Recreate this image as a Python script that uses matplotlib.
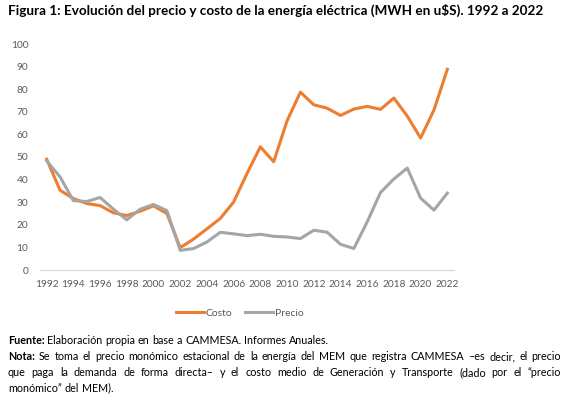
import matplotlib
matplotlib.use("Agg")
import matplotlib.pyplot as plt

years = list(range(1992, 2023))
costo = [49.0, 35.3, 31.6, 29.4, 28.5, 25.3, 24.1, 26.0, 28.4, 25.0,
         9.9, 13.7, 18.2, 22.8, 30.1, 42.7, 54.5, 47.9, 66.0, 78.7,
         73.1, 71.6, 68.4, 71.2, 72.4, 71.1, 76.1, 68.1, 58.4, 70.8, 88.8]
precio = [48.3, 41.2, 30.7, 30.3, 32.1, 26.9, 22.2, 26.9, 29.0, 26.3,
          8.7, 9.5, 12.4, 16.7, 16.0, 15.2, 15.8, 14.9, 14.6, 13.9,
          17.6, 16.7, 11.4, 9.5, 21.3, 34.3, 40.3, 45.1, 31.8, 26.5, 34.0]
xticks = years[::2]
yticks = list(range(0, 101, 10))

title = "Figura 1: Evolución del precio y costo de la energía eléctrica (MWH en u$S). 1992 a 2022"
fuente = "Elaboración propia en base a CAMMESA. Informes Anuales."
nota = [
    "Se toma el precio monómico estacional de la energía del MEM que registra CAMMESA –es decir, el precio",
    "que paga la demanda de forma directa– y el costo medio de Generación y Transporte (dado por el “precio",
    "monómico” del MEM).",
]

FAM = ["Lato", "DejaVu Sans"]
W, H = 566, 398
plt.rcParams["font.family"] = FAM

fig = plt.figure(figsize=(W / 100, H / 100), dpi=100)
fig.patch.set_facecolor("white")
renderer = fig.canvas.get_renderer()

ax = fig.add_axes([40 / W, (H - 270) / H, 414 / W, 226 / H])
ax.plot(years, costo, color="#ED7D31", lw=2.2, label="Costo", solid_joinstyle="round")
ax.plot(years, precio, color="#A5A5A5", lw=2.2, label="Precio", solid_joinstyle="round")
ax.set_xlim(1991.5, 2022.5)
ax.set_ylim(0, 100)
ax.set_xticks(xticks)
ax.set_yticks(yticks)
ax.tick_params(length=0, labelsize=7.3, colors="#595959")
ax.tick_params(axis="x", pad=7.5)
ax.tick_params(axis="y", pad=8.5)
for s in ["top", "right", "left"]:
    ax.spines[s].set_visible(False)
ax.spines["bottom"].set_color("#D9D9D9")
ax.spines["bottom"].set_linewidth(0.9)

leg = fig.legend(loc="center", bbox_to_anchor=(239.5 / W, 1 - 313 / H), ncol=2,
                 frameon=False, fontsize=7.5, handlelength=2.7, handletextpad=0.15,
                 columnspacing=1.25, labelcolor="#595959", borderpad=0)


def width_px(t):
    return t.get_window_extent(renderer).width


def fit_text(x, y, s, target, **kw):
    t = fig.text(x / W, 1 - y / H, s, va="center", ha="left", **kw)
    fs = t.get_fontsize()
    t.set_fontsize(fs * target / width_px(t))
    return t


def words_line(y, words, x0, x1=None, fs=7.5, color="black"):
    # words: list of (text, weight); justified to x1 when given
    ts = [fig.text(0, 1 - y / H, w, va="center", ha="left", fontsize=fs,
                   fontweight=wt, color=color) for w, wt in words]
    ws = [width_px(t) for t in ts]
    probe_a = fig.text(0, 0, "x x", fontsize=fs)
    probe_b = fig.text(0, 0, "xx", fontsize=fs)
    space = width_px(probe_a) - width_px(probe_b)
    probe_a.remove()
    probe_b.remove()
    if x1 is not None and len(ts) > 1:
        gap = (x1 - x0 - sum(ws)) / (len(ts) - 1)
    else:
        gap = space
    x = x0
    for t, w in zip(ts, ws):
        t.set_x(x / W)
        x += w + gap


fit_text(8, 10.5, title, 534, fontweight="bold", color="black")

# footnote font size taken from the Fuente line width
tmp = fit_text(8, 341, "Fuente: " + fuente, 322, color="black")
fs_note = tmp.get_fontsize()
tmp.remove()

words_line(341, [("Fuente:", "bold")] + [(w, "normal") for w in fuente.split()], 8, fs=fs_note)
ys = [357, 372.5, 388]
words_line(ys[0], [("Nota:", "bold")] + [(w, "normal") for w in nota[0].split()], 8, 561, fs=fs_note)
words_line(ys[1], [(w, "normal") for w in nota[1].split()], 8, 561, fs=fs_note)
words_line(ys[2], [(w, "normal") for w in nota[2].split()], 8, fs=fs_note)

fig.savefig("out.png", dpi=100, facecolor="white")
